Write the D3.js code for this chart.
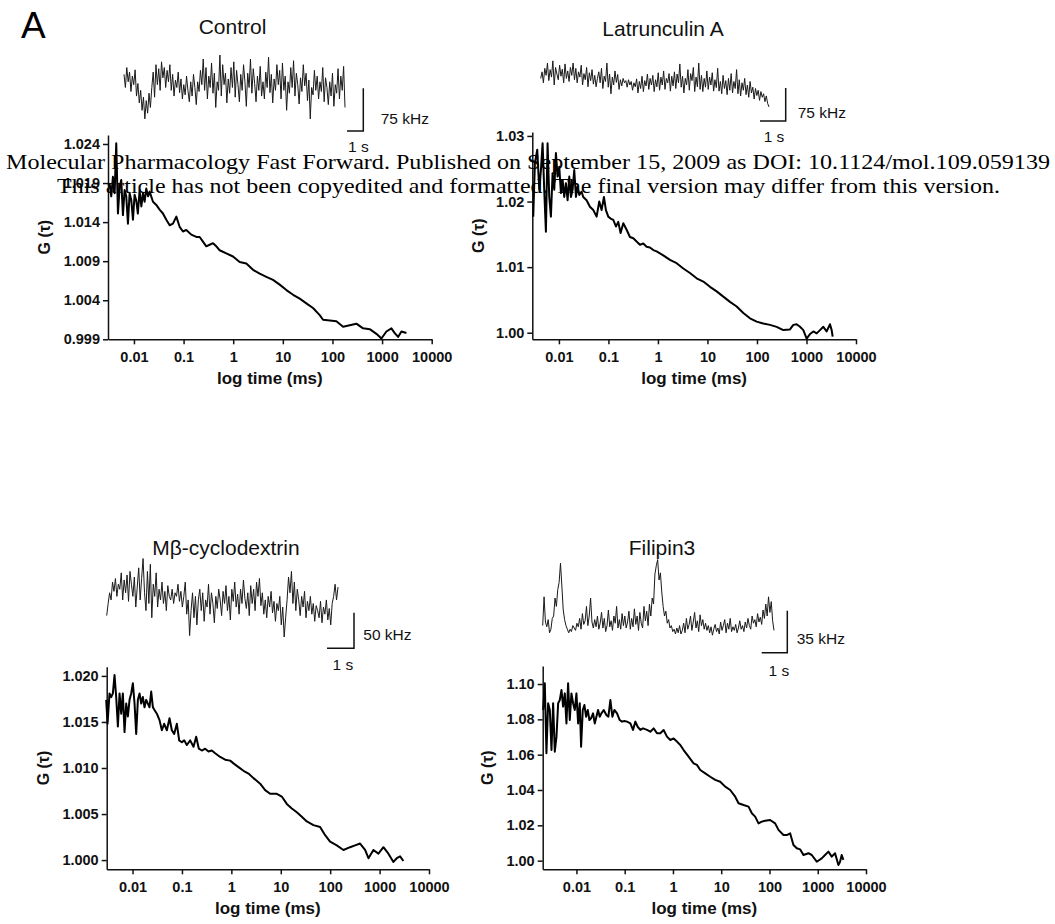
<!DOCTYPE html>
<html>
<head>
<meta charset="utf-8">
<script src="https://cdn.jsdelivr.net/npm/d3@7"></script>
<style>
  html, body { margin: 0; padding: 0; background: #fff; }
  svg { display: block; }
</style>
</head>
<body>
<svg id="chart" width="1055" height="924"></svg>
<script>
// ---------------- DATA ----------------
const panelTitles = ["Control", "Latrunculin A", "M\u03b2-cyclodextrin", "Filipin3"];
const figureLetter = "A";
const headerLine1 = "Molecular Pharmacology Fast Forward. Published on September 15, 2009 as DOI: 10.1124/mol.109.059139";
const headerLine2 = "This article has not been copyedited and formatted. The final version may differ from this version.";

const xTicks = [0.01, 0.1, 1, 10, 100, 1000, 10000];
const xTickLabels = ["0.01", "0.1", "1", "10", "100", "1000", "10000"];
const xAxisTitle = "log time (ms)";
const yAxisTitle = "G (\u03c4)";

const controlYTicks = [0.999, 1.004, 1.009, 1.014, 1.019, 1.024];
const latAYTicks = [1.00, 1.01, 1.02, 1.03];
const mbcdYTicks = [1.000, 1.005, 1.010, 1.015, 1.020];
const filYTicks = [1.00, 1.02, 1.04, 1.06, 1.08, 1.10];

const scaleBarKHz = [75, 75, 50, 35];
const scaleBarSeconds = [1, 1, 1, 1];

// Autocorrelation curves: lag time (ms) and G(tau)
const controlTau = [0.00323,0.00349,0.00377,0.00408,0.0044,0.00476,0.00514,0.00555,0.006,0.00648,
  0.007,0.00757,0.00818,0.00884,0.00955,0.0103,0.0111,0.012,0.013,0.0141,
  0.0152,0.0164,0.0177,0.0192,0.0207,
  0.0242,0.0282,0.0329,0.0384,0.0449,0.0524,0.0611,0.0714,0.0833,0.0973,0.1135,
  0.143,0.181,
  0.211,0.246,0.287,0.335,0.392,0.457,0.533,
  0.727,0.991,1.35,1.84,2.51,3.42,4.66,6.34,8.65,11.8,16.1,21.9,29.8,40.6,55.4,
  64.6,88.1,120,164,223,303,414,564,769,
  970,1222,1542,1800,2102,2455,3097];
const controlG = [1.0190,1.0173,1.0198,1.0177,1.0241,1.0151,1.0185,1.0194,1.0149,1.0181,
  1.0173,1.0138,1.0177,1.0168,1.0143,1.0175,1.0168,1.0151,1.0181,1.0160,
  1.0177,1.0166,1.0183,1.0173,1.0179,
  1.0166,1.0162,1.0156,1.0151,1.0143,1.0136,1.0138,1.0147,1.0134,1.0128,1.0130,
  1.0124,1.0121,
  1.0121,1.0115,1.0109,1.0111,1.0113,1.0109,1.0104,
  1.0100,1.0096,1.0089,1.0087,1.0079,1.0074,1.0070,1.0066,1.0060,1.0053,1.0047,1.0042,1.0036,1.0030,1.0021,
  1.0015,1.0014,1.0013,1.0006,1.0008,1.0010,1.0004,1.0003,0.9997,
  0.9991,1.0000,1.0004,0.9998,0.9993,1.0000,0.9998];

const latATau = [0.00303,0.00327,0.00365,0.00401,0.00433,0.00468,0.00505,0.00546,0.0059,0.00638,
  0.00689,0.00745,0.00805,0.0087,0.0094,0.01016,0.01098,0.01186,0.01282,0.01385,
  0.01497,0.01618,0.01748,0.01889,0.0204,0.0221,0.0238,0.0258,0.0287,0.031,
  0.0362,0.0423,0.0494,0.0577,0.0653,0.0728,0.0811,0.089,0.0992,0.1106,0.1252,0.1418,0.158,0.176,0.1994,
  0.2328,0.272,0.3175,0.3707,0.4328,0.5054,0.59,0.689,0.805,0.94,
  1.281,1.748,2.383,3.25,4.43,6.04,8.24,11.24,15.32,20.9,28.5,38.9,53.0,72.2,98.5,134,183,250,340,464,
  542,633,739,863,1008,1177,1374,1605,1874,2188,2555,2984,3224,3379];
const latAG = [1.0177,1.0258,1.0279,1.0218,1.0248,1.0289,1.0218,1.0154,1.0289,1.0207,
  1.0177,1.0243,1.0218,1.0274,1.0238,1.0253,1.0213,1.0233,1.0207,1.0228,
  1.0202,1.0238,1.0207,1.0218,1.0248,1.0207,1.0223,1.0210,1.0215,1.0207,
  1.0202,1.0192,1.0187,1.0177,1.0200,1.0187,1.0207,1.0187,1.0177,1.0174,1.0172,1.0162,1.0169,1.0152,1.0167,
  1.0157,1.0146,1.0144,1.0139,1.0134,1.0136,1.0131,1.0130,1.0126,1.0124,
  1.0118,1.0111,1.0106,1.0098,1.0091,1.0083,1.0078,1.0070,1.0063,1.0055,1.0047,1.0040,1.0030,1.0022,1.0017,1.0014,1.0012,1.0009,1.0004,1.0005,
  1.0012,1.0013,1.0009,1.0004,0.9991,0.9998,1.0002,0.9999,1.0004,1.0009,1.0002,1.0013,1.0004,0.9994];

const mbcdTau = [0.00293,0.00312,0.00342,0.0037,0.004,0.00432,0.00467,0.00505,0.00546,0.0059,
  0.00637,0.00689,0.00745,0.00805,0.0087,0.0094,0.01016,0.01098,0.01186,0.01282,
  0.01386,0.01497,0.01618,0.01749,0.0189,0.02042,0.02208,0.02386,0.02579,0.02786,
  0.03106,0.03517,0.03921,0.04371,0.04949,0.05604,0.06248,0.06965,0.07886,0.0879,0.0995,
  0.111,0.1256,0.1468,0.1714,0.1941,0.2198,0.2527,0.2951,0.3447,0.4026,0.4702,
  0.5935,0.7491,0.9456,1.105,1.394,1.76,2.222,2.804,3.824,4.828,6.094,
  8.32,10.49,13.25,16.72,21.11,26.65,33.63,45.87,62.57,78.99,99.7,
  136,185.5,253,319,403,509,595,750,947,1196,1509,1905,2225,2598,3034];
const mbcdG = [1.0174,1.0148,1.0181,1.0177,1.0181,1.0201,1.0177,1.0145,1.0181,1.0159,
  1.0181,1.0139,1.0170,1.0156,1.0174,1.0181,1.0192,1.0170,1.0137,1.0174,
  1.0181,1.0170,1.0177,1.0166,1.0174,1.0170,1.0166,1.0183,1.0166,1.0163,
  1.0159,1.0152,1.0141,1.0148,1.0141,1.0154,1.0141,1.0137,1.0148,1.0130,1.0128,
  1.0130,1.0125,1.0130,1.0123,1.0134,1.0121,1.0119,1.0121,1.0118,1.0119,1.0116,
  1.0112,1.0109,1.0108,1.0105,1.0101,1.0097,1.0094,1.0089,1.0083,1.0076,1.0072,
  1.0072,1.0069,1.0061,1.0056,1.0052,1.0047,1.0042,1.0038,1.0036,1.0027,1.0020,
  1.0016,1.0011,1.0014,1.0016,1.0018,1.0011,1.0002,1.0011,1.0007,1.0014,1.0007,0.9998,1.0002,1.0004,0.9999];

const filTau = [0.00204,0.00221,0.00239,0.00259,0.00281,0.00304,0.00329,0.00356,0.00386,0.00418,
  0.00452,0.0049,0.0053,0.00574,0.00621,0.00672,0.00728,0.00788,0.00853,0.00924,
  0.01,0.01083,0.01172,0.01249,0.01352,0.01464,0.01585,0.01716,0.01858,0.02011,
  0.02212,0.02395,0.02593,0.02807,0.03039,0.0329,
  0.03677,0.04176,0.04593,0.05051,0.05557,0.06112,0.06939,0.0788,0.08807,0.09842,
  0.1118,0.131,0.1488,0.1663,0.1858,0.211,0.2395,0.2899,
  0.3396,0.3981,0.4667,0.547,0.6412,0.7516,0.881,1.032,1.21,1.418,1.663,
  2.109,2.677,3.138,3.678,4.667,5.922,7.516,9.535,12.1,15.36,19.49,22.84,28.99,36.78,43.11,50.51,59.22,69.39,81.34,103.2,131,153.6,
  194.9,228.4,267.7,313.8,367.8,431.1,505.1,641.2,751.6,953.5,1210,1418,1663,1949,2284,2677,2899,3138,3396];
const filG = [1.0853,1.1004,1.0608,1.0891,1.0853,1.0626,1.0891,1.0617,1.0702,1.0891,
  1.0909,1.0966,1.0872,1.0947,1.0777,1.1004,1.0796,1.0947,1.0891,1.0853,
  1.0947,1.0777,1.0891,1.0645,1.0853,1.0881,1.0815,1.0853,1.0796,1.0806,
  1.0834,1.0777,1.0815,1.0853,1.0815,1.0834,
  1.0853,1.0825,1.0815,1.0909,1.0815,1.0853,1.0834,1.0796,1.0787,1.0791,
  1.0787,1.0777,1.0740,1.0787,1.0758,1.0740,1.0749,1.0740,
  1.0730,1.0749,1.0721,1.0721,1.0740,1.0702,1.0683,1.0692,1.0674,1.0655,1.0626,
  1.0589,1.0551,1.0542,1.0513,1.0494,1.0475,1.0457,1.0447,1.0419,1.0400,1.0362,1.0325,1.0315,1.0306,1.0268,1.0249,1.0211,1.0221,1.0226,1.0230,1.0211,1.0174,
  1.0145,1.0145,1.0155,1.0089,1.0070,1.0064,1.0032,1.0042,1.0032,0.9994,1.0013,1.0032,1.0051,1.0023,1.0042,0.9975,0.9994,1.0032,1.0004];

// Fluorescence intensity traces (kHz), evenly sampled in time
const controlTrace = [228,205,240,215,232,198,225,210,236,190,212,178,200,165,188,150,182,160,195,170,
  205,232,188,245,210,238,200,250,222,240,205,235,215,245,200,228,190,218,205,232,
  196,220,185,210,192,225,200,180,215,190,228,205,175,215,198,235,210,255,200,240,
  185,225,205,248,195,230,170,215,200,262,190,245,210,230,178,220,195,240,205,250,
  188,235,210,180,228,200,245,215,172,230,205,255,195,238,212,180,225,200,242,190,
  215,185,232,205,258,196,228,178,220,200,245,210,235,185,248,200,225,165,215,195,
  240,205,252,190,230,210,176,222,198,245,208,230,182,218,150,205,192,235,200,225,
  185,215,198,240,180,222,205,175,215,190,230,172,210,195,238,185,225,200,242,170];

const latATrace = [215,230,205,238,222,250,210,235,218,255,200,240,225,212,245,220,236,205,248,215,
  232,208,240,222,250,212,238,205,230,218,245,200,226,212,240,196,228,210,235,202,
  222,196,215,230,205,238,192,220,208,250,195,225,180,218,200,232,206,224,190,212,
  198,215,205,210,195,212,200,208,188,205,196,214,182,208,192,220,185,210,198,225,
  190,215,200,222,185,212,196,228,188,218,200,232,190,215,205,226,186,220,198,230,
  192,225,205,248,195,220,182,215,200,235,188,226,210,240,185,218,196,250,190,222,
  185,215,195,232,190,218,200,228,186,212,194,238,186,208,180,222,192,210,178,215,
  188,226,182,208,192,235,180,212,175,205,188,215,178,200,172,208,182,195,168,192,
  176,188,165,185,172,180,162,175,158,150];

const mbcdTrace = [178,195,210,200,225,212,230,205,222,215,238,200,228,210,235,198,240,222,205,232,
  190,218,245,200,230,258,210,185,240,195,250,175,222,205,238,190,215,200,225,195,
  212,185,220,205,200,215,195,210,205,222,198,212,190,205,225,180,200,150,185,210,
  175,205,165,200,215,185,210,170,200,190,222,180,210,195,168,205,188,215,200,178,
  212,195,220,185,205,172,215,198,225,190,208,180,215,195,228,202,188,210,178,220,
  195,215,185,225,205,230,192,210,180,200,175,205,190,212,182,198,170,195,185,205,
  165,190,148,175,200,232,210,240,195,225,185,215,200,178,205,190,212,175,198,185,
  205,180,195,170,192,185,175,198,168,190,180,200,172,188,165,195,205,222,200,218];

const filTrace = [22,46,25,21,27,16,19,28,30,45,38,52,58,74,55,35,27,22,19,16,
  19,17,22,20,18,24,21,28,19,32,23,26,38,22,30,45,25,20,27,21,
  30,19,24,33,20,28,17,22,35,21,26,18,30,24,38,20,27,19,32,22,
  30,20,25,34,19,28,21,36,23,30,18,33,24,20,38,26,34,22,40,30,
  45,40,65,72,77,60,66,50,38,30,34,24,27,20,22,17,19,15,20,16,
  22,15,18,24,16,28,19,23,30,18,25,33,20,26,17,31,22,27,19,24,
  18,22,16,21,14,19,23,17,20,15,25,18,22,27,16,24,19,28,17,21,
  18,23,16,20,26,19,22,17,25,20,28,22,19,30,24,27,21,32,25,29,
  23,35,28,40,30,46,33,42,26,18];

const corrTau = [controlTau, latATau, mbcdTau, filTau];
const corrG = [controlG, latAG, mbcdG, filG];
const traces = [controlTrace, latATrace, mbcdTrace, filTrace];
const yTickSets = [controlYTicks, latAYTicks, mbcdYTicks, filYTicks];

// ---------------- LAYOUT ----------------
const SANS = "'Liberation Sans', Arial, Helvetica, sans-serif";
const SERIF = "'Liberation Serif', 'Times New Roman', Times, serif";

const layout = [
  { titleX: 232.5, titleY: 33.5,
    plot: { x0: 108, x1: 431.7, yTop: 135, yBot: 339.3, xMin: 0.003, yMin: 0.999, yMax: 1.02515, fmt: ".3f", yLabX: 50 },
    trace: { x0: 124, x1: 345, yTop: 55, yBot: 120, kLo: 148, kHi: 262, dur: 13.56 },
    bar: { x: 363.3, y: 131, kx: 380.7, ky: 124, sx: 358.3, sy: 152 } },
  { titleX: 663, titleY: 36,
    plot: { x0: 532.3, x1: 856, yTop: 132, yBot: 339.3, xMin: 0.0029, yMin: 0.999, yMax: 1.0306, fmt: ".2f", yLabX: 484 },
    trace: { x0: 540.7, x1: 769, yTop: 60, yBot: 110, kLo: 143, kHi: 257, dur: 8.88 },
    bar: { x: 785.7, y: 121, kx: 797.7, ky: 117.5, sx: 774, sy: 141.5 } },
  { titleX: 226, titleY: 555,
    plot: { x0: 106.7, x1: 429, yTop: 666.7, yBot: 869.3, xMin: 0.003, yMin: 0.999, yMax: 1.021, fmt: ".3f", yLabX: 49 },
    trace: { x0: 106.7, x1: 338, yTop: 560, yBot: 637, kLo: 148, kHi: 256, dur: 8.57 },
    bar: { x: 354, y: 648.3, kx: 363.3, ky: 640, sx: 342.8, sy: 670 } },
  { titleX: 662, titleY: 555,
    plot: { x0: 542.7, x1: 866, yTop: 666, yBot: 869.3, xMin: 0.002, yMin: 0.9951, yMax: 1.1102, fmt: ".2f", yLabX: 492.5 },
    trace: { x0: 542.7, x1: 774, yTop: 560, yBot: 640, kLo: 10, kHi: 76.7, dur: 9.04 },
    bar: { x: 787.3, y: 652.7, kx: 796.7, ky: 644, sx: 778.8, sy: 676 } }
];

// ---------------- DRAW ----------------
const svg = d3.select("#chart");
svg.append("rect").attr("width", 1055).attr("height", 924).attr("fill", "#fff");

svg.append("text")
  .attr("x", 21).attr("y", 38.3)
  .attr("font-family", SANS).attr("font-size", 37)
  .attr("fill", "#000").text(figureLetter);

layout.forEach((L, i) => {
  const g = svg.append("g");
  const P = L.plot;

  // Title
  g.append("text")
    .attr("x", L.titleX).attr("y", L.titleY)
    .attr("text-anchor", "middle")
    .attr("font-family", SANS).attr("font-size", 21)
    .attr("fill", "#111").text(panelTitles[i]);

  // Intensity trace
  const T = L.trace;
  const xT = d3.scaleLinear().domain([0, T.dur]).range([T.x0, T.x1]);
  const yT = d3.scaleLinear().domain([T.kLo, T.kHi]).range([T.yBot, T.yTop]);
  const tr = traces[i];
  const n = tr.length;
  const traceLine = d3.line()
    .x((d, j) => xT(j * T.dur / (n - 1)))
    .y(d => yT(d));
  g.append("path")
    .attr("d", traceLine(tr))
    .attr("fill", "none")
    .attr("stroke", "#1a1a1a")
    .attr("stroke-width", 1)
    .attr("stroke-linejoin", "round");

  // Scale bars via the trace scales
  const B = L.bar;
  const barH = yT(T.kLo) - yT(T.kLo + scaleBarKHz[i]);
  const barW = xT(scaleBarSeconds[i]) - xT(0);
  g.append("path")
    .attr("d", `M${B.x},${B.y - barH}L${B.x},${B.y}L${B.x - barW},${B.y}`)
    .attr("fill", "none").attr("stroke", "#111").attr("stroke-width", 1.5);
  g.append("text")
    .attr("x", B.kx).attr("y", B.ky)
    .attr("font-family", SANS).attr("font-size", 15.5)
    .attr("fill", "#111").text(scaleBarKHz[i] + " kHz");
  g.append("text")
    .attr("x", B.sx).attr("y", B.sy)
    .attr("text-anchor", "middle")
    .attr("font-family", SANS).attr("font-size", 15.5)
    .attr("fill", "#111").text(scaleBarSeconds[i] + " s");

  // Correlation plot scales
  const x = d3.scaleLog().domain([P.xMin, 10000]).range([P.x0, P.x1]);
  const y = d3.scaleLinear().domain([P.yMin, P.yMax]).range([P.yBot, P.yTop]);

  const xAxis = d3.axisBottom(x)
    .tickValues(xTicks)
    .tickFormat((d, k) => xTickLabels[k])
    .tickSize(5).tickSizeOuter(0).tickPadding(7);
  const gx = g.append("g")
    .attr("transform", `translate(0,${P.yBot})`)
    .call(xAxis);

  const yAxis = d3.axisLeft(y)
    .tickValues(yTickSets[i])
    .tickFormat(d3.format(P.fmt))
    .tickSize(5).tickSizeOuter(0).tickPadding(3);
  const gy = g.append("g")
    .attr("transform", `translate(${P.x0},0)`)
    .call(yAxis);

  [gx, gy].forEach(a => {
    a.attr("font-family", SANS).attr("font-size", 14.5).attr("font-weight", "bold");
    a.select(".domain").attr("stroke", "#111").attr("stroke-width", 1.5);
    a.selectAll(".tick line").attr("stroke", "#111").attr("stroke-width", 1.5);
    a.selectAll(".tick text").attr("fill", "#111");
  });

  // Axis titles
  g.append("text")
    .attr("x", (P.x0 + P.x1) / 2).attr("y", P.yBot + 45)
    .attr("text-anchor", "middle")
    .attr("font-family", SANS).attr("font-size", 17).attr("font-weight", "bold")
    .attr("fill", "#111").text(xAxisTitle);
  g.append("text")
    .attr("transform", `translate(${P.yLabX},${(P.yTop + P.yBot) / 2}) rotate(-90)`)
    .attr("text-anchor", "middle")
    .attr("font-family", SANS).attr("font-size", 16).attr("font-weight", "bold")
    .attr("fill", "#111").text(yAxisTitle);

  // Correlation curve
  const pts = corrTau[i].map((t, k) => [t, corrG[i][k]]);
  const curve = d3.line().x(d => x(d[0])).y(d => y(d[1]));
  g.append("path")
    .attr("d", curve(pts))
    .attr("fill", "none")
    .attr("stroke", "#000")
    .attr("stroke-width", 2)
    .attr("stroke-linejoin", "round");
});

// Header watermark (drawn on top)
svg.append("text")
  .attr("x", 6).attr("y", 169.3)
  .attr("font-family", SERIF).attr("font-size", 22)
  .attr("textLength", 1044).attr("lengthAdjust", "spacingAndGlyphs")
  .attr("fill", "#000").text(headerLine1);
svg.append("text")
  .attr("x", 57).attr("y", 193.3)
  .attr("font-family", SERIF).attr("font-size", 22)
  .attr("textLength", 943).attr("lengthAdjust", "spacingAndGlyphs")
  .attr("fill", "#000").text(headerLine2);
</script>
</body>
</html>
